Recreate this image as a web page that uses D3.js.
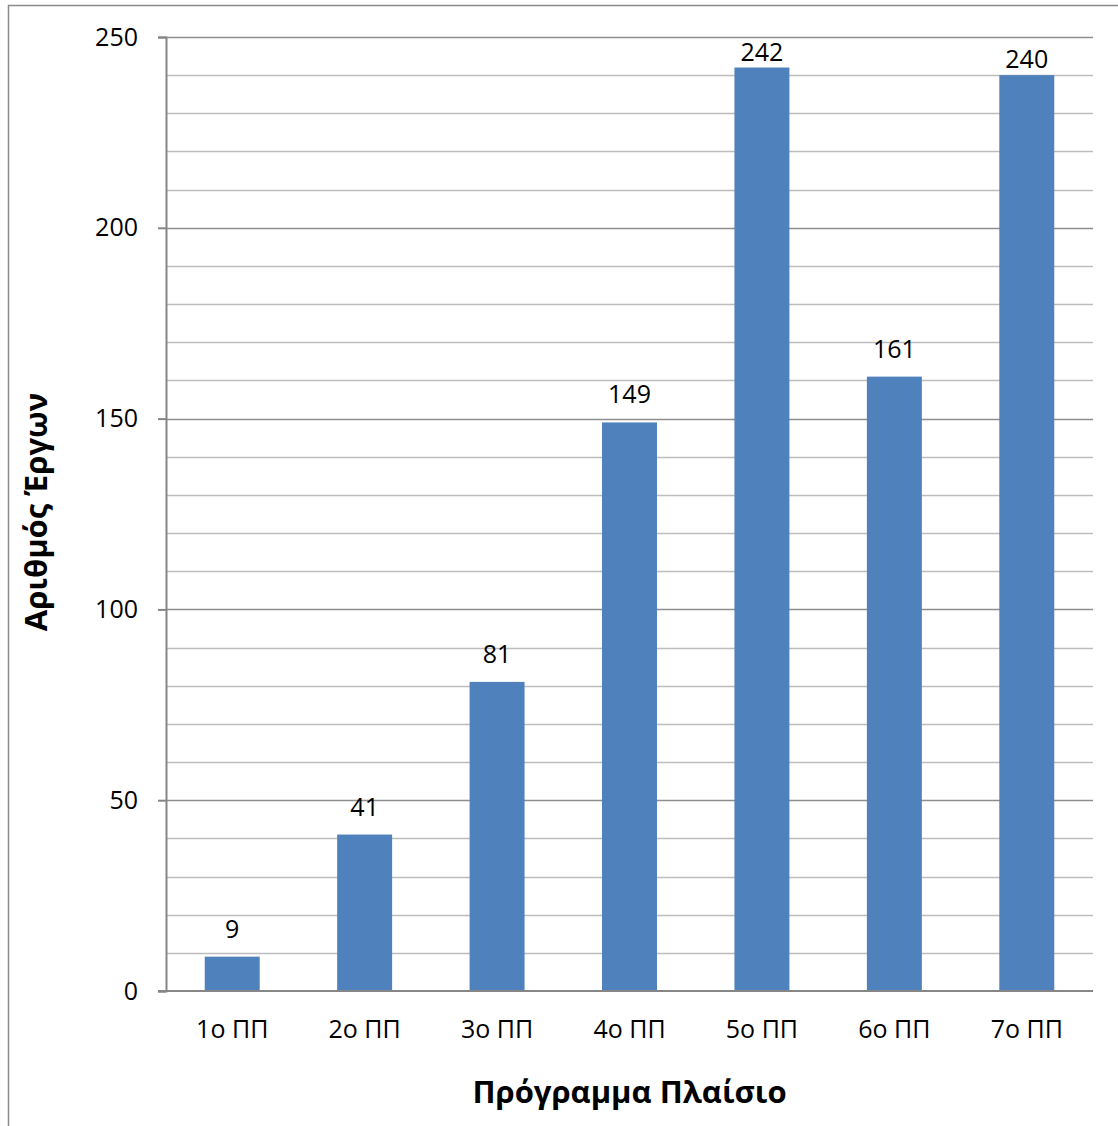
<!DOCTYPE html>
<html>
<head>
<meta charset="utf-8">
<script src="https://cdn.jsdelivr.net/npm/d3@7"></script>
<style>
  html, body { margin: 0; padding: 0; background: #fff; }
  svg { display: block; }
  text { font-family: "Open Sans", "Noto Sans", sans-serif; fill: #000; }
</style>
</head>
<body>
<svg id="chart" width="1118" height="1126"></svg>
<script>
// Framework programmes and number of projects in each
const categories = ["1ο ΠΠ", "2ο ΠΠ", "3ο ΠΠ", "4ο ΠΠ", "5ο ΠΠ", "6ο ΠΠ", "7ο ΠΠ"];
const projects = [9, 41, 81, 149, 242, 161, 240];
const yTicks = [0, 50, 100, 150, 200, 250];
const xTitle = "Πρόγραμμα Πλαίσιο";
const yTitle = "Αριθμός Έργων";

const svg = d3.select("#chart");
const plot = { left: 166, right: 1093, top: 37, bottom: 991 };
const fontFamily = "'Open Sans', 'Noto Sans', sans-serif";
const labelSize = 25;

// outer chart frame (left and top edges visible)
svg.append("path")
  .attr("d", "M8.5,1126 V5.5 H1118")
  .attr("fill", "none")
  .attr("stroke", "#8a8a8a")
  .attr("stroke-width", 1.5);

const x = d3.scaleBand()
  .domain(categories)
  .range([plot.left, plot.right])
  .paddingInner(0.585)
  .paddingOuter(0.2925);

const y = d3.scaleLinear()
  .domain([0, 250])
  .range([plot.bottom, plot.top]);

// minor gridlines every 10, major every 50
svg.append("g").selectAll("line")
  .data(d3.range(10, 251, 10))
  .join("line")
  .attr("x1", plot.left)
  .attr("x2", plot.right)
  .attr("y1", d => Math.round(y(d)) + 0.5)
  .attr("y2", d => Math.round(y(d)) + 0.5)
  .attr("stroke", d => d % 50 === 0 ? "#8e8e8e" : "#bdbdbd")
  .attr("stroke-width", 1.5);

// bars
svg.append("g").selectAll("rect")
  .data(projects)
  .join("rect")
  .attr("x", (d, i) => x(categories[i]))
  .attr("width", x.bandwidth())
  .attr("y", d => y(d))
  .attr("height", d => y(0) - y(d))
  .attr("fill", "#4f81bd");

// value labels above bars; labels near the top edge are kept inside the plot
svg.append("g").selectAll("text")
  .data(projects)
  .join("text")
  .attr("x", (d, i) => x(categories[i]) + x.bandwidth() / 2)
  .attr("y", d => (y(d) - 19 - 18 < plot.top + 4) ? y(d) - 7 : y(d) - 19)
  .attr("text-anchor", "middle")
  .attr("font-size", labelSize)
  .text(d => d);

// y axis
const yAxis = svg.append("g")
  .attr("transform", `translate(${plot.left},0)`)
  .call(d3.axisLeft(y).tickValues(yTicks).tickSize(8).tickPadding(20).tickFormat(d3.format("d")));
yAxis.select(".domain").attr("stroke", "#868686").attr("stroke-width", 2);
yAxis.selectAll(".tick line").attr("stroke", "#868686").attr("stroke-width", 2);
yAxis.selectAll(".tick text")
  .attr("font-size", labelSize)
  .attr("font-family", fontFamily)
  .attr("fill", "#000");

// x axis
const xAxis = svg.append("g")
  .attr("transform", `translate(0,${plot.bottom})`)
  .call(d3.axisBottom(x).tickSize(0).tickPadding(29));
xAxis.select(".domain")
  .attr("d", `M${plot.left - 8},0H${plot.right}`)
  .attr("stroke", "#868686").attr("stroke-width", 2);
xAxis.selectAll(".tick text")
  .attr("font-size", labelSize)
  .attr("font-family", fontFamily)
  .attr("fill", "#000");

// axis titles
svg.append("text")
  .attr("x", (plot.left + plot.right) / 2)
  .attr("y", 1103)
  .attr("text-anchor", "middle")
  .attr("font-size", 31)
  .attr("font-weight", "bold")
  .text(xTitle);

svg.append("text")
  .attr("transform", `translate(47,${(plot.top + plot.bottom) / 2 - 2}) rotate(-90)`)
  .attr("text-anchor", "middle")
  .attr("font-size", 31)
  .attr("font-weight", "bold")
  .text(yTitle);
</script>
</body>
</html>
